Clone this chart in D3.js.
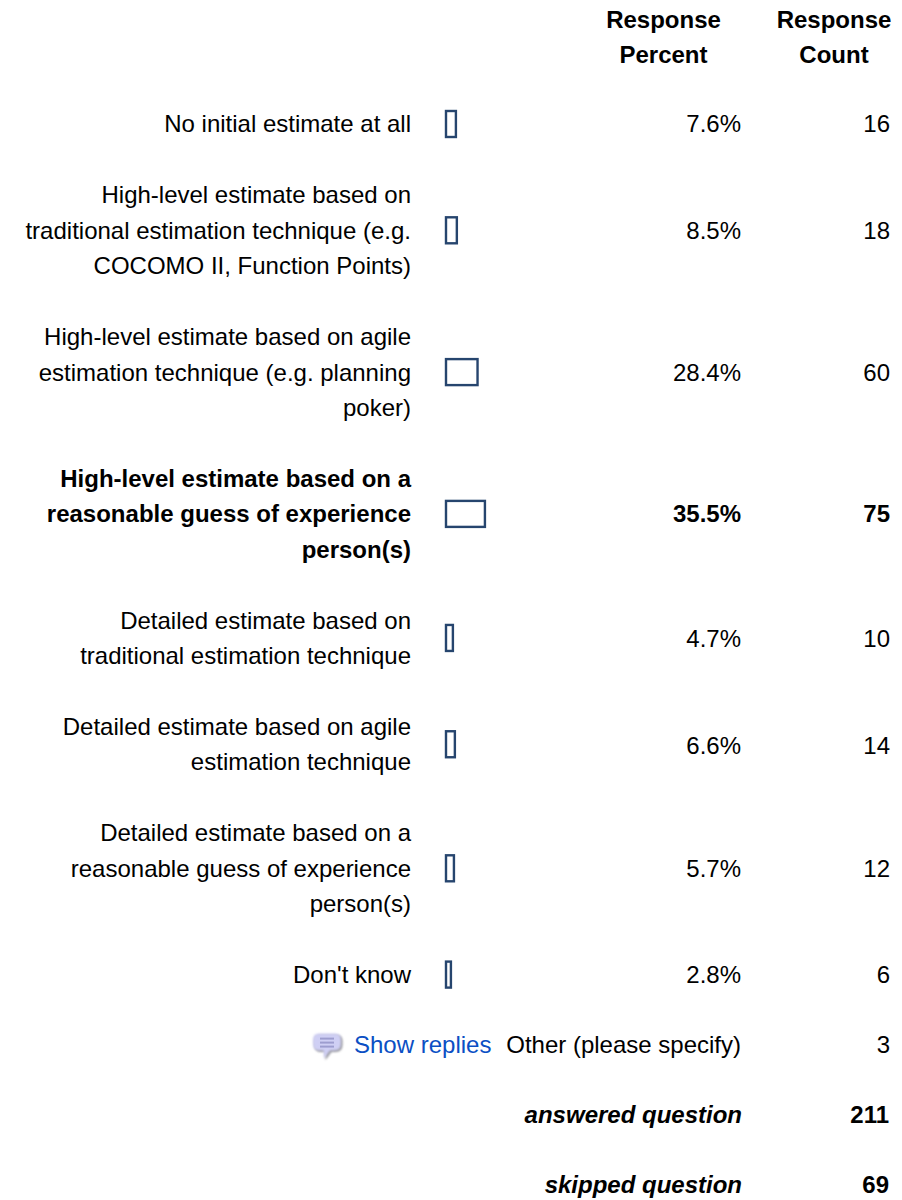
<!DOCTYPE html>
<html>
<head>
<meta charset="utf-8">
<script src="https://cdn.jsdelivr.net/npm/d3@7"></script>
<style>
html, body { margin: 0; padding: 0; background: #fff; }
svg { display: block; font-family: "Liberation Sans", Arial, sans-serif; font-size: 24px; fill: #000; }
</style>
</head>
<body>
<div id="chart"></div>
<script>
// values
const categories = [
    ["No initial estimate at all"],
    ["High-level estimate based on", "traditional estimation technique (e.g.", "COCOMO II, Function Points)"],
    ["High-level estimate based on agile", "estimation technique (e.g. planning", "poker)"],
    ["High-level estimate based on a", "reasonable guess of experience", "person(s)"],
    ["Detailed estimate based on", "traditional estimation technique"],
    ["Detailed estimate based on agile", "estimation technique"],
    ["Detailed estimate based on a", "reasonable guess of experience", "person(s)"],
    ["Don't know"]
];
const percents = [7.6, 8.5, 28.4, 35.5, 4.7, 6.6, 5.7, 2.8];
const counts = [16, 18, 60, 75, 10, 14, 12, 6];
const highlighted = 3;
const headers = [["Response", "Percent"], ["Response", "Count"]];
const footer = [["answered question", 211], ["skipped question", 69]];
const otherLabel = "Other (please specify)";
const otherCount = 3;
const repliesLabel = "Show replies";

const width = 902, height = 1200;
const lineH = 35.5, rowGap = 35.3;
const labelX = 411, barX = 445, pctX = 741, countX = 890;
const barH = 26;

const svg = d3.select("#chart").append("svg")
    .attr("width", width)
    .attr("height", height)
    .attr("viewBox", [0, 0, width, height]);

// bars keep a small minimum width at zero, same as the original table
const x = d3.scaleLinear().domain([0, 40]).range([barX + 4, barX + 45.6]);

// row centres follow from how many lines each label wraps to
let cursor = 124 - lineH / 2;
const centers = categories.map(lines => {
    const c = cursor + lines.length * lineH / 2;
    cursor += lines.length * lineH + rowGap;
    return c;
});
const otherY = centers[centers.length - 1] + 70;

// header
headers.forEach((lines, i) => {
    svg.append("text")
        .attr("text-anchor", "middle")
        .attr("font-weight", "bold")
        .selectAll("tspan")
        .data(lines)
        .join("tspan")
        .attr("x", i ? 834 : 663.5)
        .attr("y", (d, j) => 19.5 + j * lineH)
        .attr("dy", "0.35em")
        .text(d => d);
});

const row = svg.selectAll("g.row")
    .data(categories)
    .join("g")
    .attr("class", "row")
    .attr("font-weight", (d, i) => i === highlighted ? "bold" : null)
    .attr("transform", (d, i) => `translate(0,${centers[i]})`);

row.append("text")
    .attr("text-anchor", "end")
    .selectAll("tspan")
    .data(d => d)
    .join("tspan")
    .attr("x", labelX)
    .attr("y", function (d, j) {
        const n = this.parentNode.__data__.length;
        return (j - (n - 1) / 2) * lineH;
    })
    .attr("dy", "0.35em")
    .text(d => d);

// the two-line rows have their numbers a little below the label block
const cellDy = lines => lines.length === 2 ? 1 : 0;

row.append("rect")
    .attr("x", barX + 1)
    .attr("y", -barH / 2)
    .attr("width", (d, i) => x(percents[i]) - barX - 2)
    .attr("height", barH)
    .attr("fill", "#fff")
    .attr("stroke", "#26456e")
    .attr("stroke-width", 2.4);

row.append("text")
    .attr("x", pctX)
    .attr("y", cellDy)
    .attr("dy", "0.35em")
    .attr("text-anchor", "end")
    .text((d, i) => percents[i].toFixed(1) + "%");

row.append("text")
    .attr("x", countX)
    .attr("y", cellDy)
    .attr("dy", "0.35em")
    .attr("text-anchor", "end")
    .text((d, i) => counts[i]);

// replies icon
const defs = svg.append("defs");
defs.append("filter").attr("id", "soft")
    .append("feGaussianBlur").attr("stdDeviation", 0.8);

const bubble = "M6 1 H22 Q28 1 28 7 V11 Q28 18 21 18 H17 L11 26 L10.5 18 H6 Q0 18 0 11 V7 Q0 1 6 1 Z";
const icon = svg.append("g").attr("transform", `translate(313,${otherY - 12})`);
icon.append("path")
    .attr("d", bubble)
    .attr("transform", "translate(1.5,1.5)")
    .attr("fill", "#77777f")
    .attr("opacity", 0.75)
    .attr("filter", "url(#soft)");
icon.append("path")
    .attr("d", bubble)
    .attr("fill", "#cfcff4")
    .attr("filter", "url(#soft)");
icon.selectAll("line")
    .data([6, 10, 14])
    .join("line")
    .attr("x1", 7).attr("x2", 21)
    .attr("y1", d => d).attr("y2", d => d)
    .attr("stroke", "#9d9dcf")
    .attr("stroke-width", 2);

svg.append("text")
    .attr("x", 354)
    .attr("y", otherY)
    .attr("dy", "0.35em")
    .attr("fill", "#0b4fc4")
    .text(repliesLabel);

svg.append("text")
    .attr("x", pctX)
    .attr("y", otherY)
    .attr("dy", "0.35em")
    .attr("text-anchor", "end")
    .text(otherLabel);

svg.append("text")
    .attr("x", countX)
    .attr("y", otherY)
    .attr("dy", "0.35em")
    .attr("text-anchor", "end")
    .text(otherCount);

// totals
const foot = svg.selectAll("g.foot")
    .data(footer)
    .join("g")
    .attr("class", "foot")
    .attr("font-weight", "bold")
    .attr("transform", (d, i) => `translate(0,${otherY + 70 * (i + 1)})`);

foot.append("text")
    .attr("x", pctX + 1)
    .attr("dy", "0.35em")
    .attr("text-anchor", "end")
    .attr("font-style", "italic")
    .text(d => d[0]);

foot.append("text")
    .attr("x", countX - 1)
    .attr("dy", "0.35em")
    .attr("text-anchor", "end")
    .text(d => d[1]);
</script>
</body>
</html>
